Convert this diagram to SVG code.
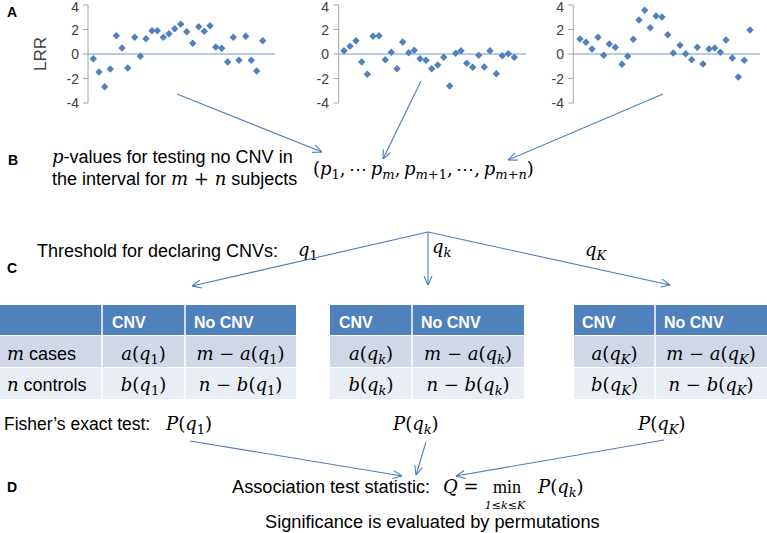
<svg xmlns="http://www.w3.org/2000/svg" xmlns:xlink="http://www.w3.org/1999/xlink" width="767" height="533" viewBox="0 0 767 533">
<style>
.t{font-family:"Liberation Sans",Arial,sans-serif;font-size:18px;fill:#000}
.lbl{font-family:"Liberation Sans",Arial,sans-serif;font-weight:bold;font-size:14px;fill:#000}
.ax{font-family:"Liberation Sans",Arial,sans-serif;font-size:14px;fill:#404040;text-anchor:end}
.lrr{font-family:"Liberation Sans",Arial,sans-serif;font-size:17px;fill:#404040;text-anchor:middle}
.m{font-family:"DejaVu Serif","Liberation Serif",serif;font-size:18px;fill:#000}
.i{font-style:italic}
.s{font-size:13px}
.hd{font-family:"Liberation Sans",Arial,sans-serif;font-weight:bold;font-size:16px;fill:#fff}
.mid{text-anchor:middle}
.axis{stroke:#A6A6A6;stroke-width:1;fill:none}
.zero{stroke:#7395CA;stroke-width:1.2}
.pt{fill:#4F81BD}
.conn{stroke:#4A7EBB;stroke-width:1.1;fill:none;marker-end:url(#ah)}
.hdr{fill:#4F81BD}
.r1{fill:#D0D8E8}
.r2{fill:#E9EDF4}
.sep{stroke:#fff;stroke-width:1.5}
</style>
<defs>
<path id="d" d="M0,-3.7 L3.7,0 L0,3.7 L-3.7,0 Z"/>
<marker id="ah" viewBox="0 0 10 10" refX="10" refY="5" markerWidth="10" markerHeight="10" markerUnits="userSpaceOnUse" orient="auto">
<path d="M1,1 L10,5 L1,9" fill="none" stroke="#4A7EBB" stroke-width="1.1"/>
</marker>
</defs>

<g id="labelA"><text class="lbl" x="7" y="17">A</text></g>
<g id="lrr"><text class="lrr" transform="translate(46,54) rotate(-90)">LRR</text></g>

<g id="plot1">
<path class="axis" d="M88,5 V103 M83,5 H88 M83,29.5 H88 M83,54 H88 M83,78.5 H88 M83,103 H88"/>
<text class="ax" x="79" y="12">4</text><text class="ax" x="79" y="34.5">2</text><text class="ax" x="79" y="59">0</text><text class="ax" x="79" y="83.5">-2</text><text class="ax" x="79" y="108">-4</text>
<line class="zero" x1="88" y1="54" x2="275" y2="54"/>
<g class="pt">
<use href="#d" x="93.3" y="58.7"/><use href="#d" x="99" y="72"/><use href="#d" x="104.7" y="86.7"/><use href="#d" x="110.3" y="69"/><use href="#d" x="116.3" y="35.7"/><use href="#d" x="122" y="48"/><use href="#d" x="127.7" y="68"/><use href="#d" x="134.7" y="37.3"/><use href="#d" x="140.3" y="56.3"/><use href="#d" x="146" y="38.7"/><use href="#d" x="152" y="30.7"/><use href="#d" x="157.3" y="30.7"/><use href="#d" x="163.3" y="37.3"/><use href="#d" x="169" y="33.7"/><use href="#d" x="174.7" y="28.7"/><use href="#d" x="180.7" y="24.3"/><use href="#d" x="186.7" y="31.7"/><use href="#d" x="192.7" y="43.3"/><use href="#d" x="198.7" y="26.7"/><use href="#d" x="204.3" y="31.3"/><use href="#d" x="210" y="25.7"/><use href="#d" x="215.7" y="47"/><use href="#d" x="221.7" y="48.3"/><use href="#d" x="227.7" y="62"/><use href="#d" x="233.3" y="37.3"/><use href="#d" x="239" y="60.3"/><use href="#d" x="245.7" y="36.3"/><use href="#d" x="251.3" y="60.3"/><use href="#d" x="256.7" y="71"/><use href="#d" x="262.7" y="40.7"/>
</g>
</g>

<g id="plot2">
<path class="axis" d="M338.7,5 V103 M333.7,5 H338.7 M333.7,29.5 H338.7 M333.7,54 H338.7 M333.7,78.5 H338.7 M333.7,103 H338.7"/>
<text class="ax" x="329" y="12">4</text><text class="ax" x="329" y="34.5">2</text><text class="ax" x="329" y="59">0</text><text class="ax" x="329" y="83.5">-2</text><text class="ax" x="329" y="108">-4</text>
<line class="zero" x1="338.7" y1="54" x2="526" y2="54"/>
<g class="pt">
<use href="#d" x="344" y="50.7"/><use href="#d" x="350" y="46.3"/><use href="#d" x="356" y="40.7"/><use href="#d" x="361.7" y="62"/><use href="#d" x="367.3" y="74.3"/><use href="#d" x="373" y="36.3"/><use href="#d" x="379" y="35.7"/><use href="#d" x="385.3" y="59.7"/><use href="#d" x="391.3" y="52.3"/><use href="#d" x="397" y="68.7"/><use href="#d" x="402.7" y="42"/><use href="#d" x="408.7" y="52.7"/><use href="#d" x="414.3" y="50.3"/><use href="#d" x="420" y="58.7"/><use href="#d" x="426" y="60.3"/><use href="#d" x="431.7" y="68.7"/><use href="#d" x="437.7" y="65"/><use href="#d" x="443.7" y="57.3"/><use href="#d" x="449.7" y="86"/><use href="#d" x="455.7" y="53.3"/><use href="#d" x="461" y="50.7"/><use href="#d" x="466.7" y="63.3"/><use href="#d" x="472.7" y="67.3"/><use href="#d" x="478.7" y="55.3"/><use href="#d" x="484.3" y="67"/><use href="#d" x="490" y="50.7"/><use href="#d" x="496.3" y="73.7"/><use href="#d" x="502.3" y="55.7"/><use href="#d" x="508.3" y="53.7"/><use href="#d" x="514.3" y="57.3"/>
</g>
</g>

<g id="plot3">
<path class="axis" d="M573.3,5 V103 M568.3,5 H573.3 M568.3,29.5 H573.3 M568.3,54 H573.3 M568.3,78.5 H573.3 M568.3,103 H573.3"/>
<text class="ax" x="564" y="12">4</text><text class="ax" x="564" y="34.5">2</text><text class="ax" x="564" y="59">0</text><text class="ax" x="564" y="83.5">-2</text><text class="ax" x="564" y="108">-4</text>
<line class="zero" x1="573.3" y1="54" x2="760" y2="54"/>
<g class="pt">
<use href="#d" x="580" y="39"/><use href="#d" x="586" y="42.3"/><use href="#d" x="592" y="49"/><use href="#d" x="598" y="37.3"/><use href="#d" x="603.7" y="55.3"/><use href="#d" x="609.3" y="44"/><use href="#d" x="615.3" y="47.3"/><use href="#d" x="622" y="64.3"/><use href="#d" x="627.7" y="56.3"/><use href="#d" x="633.3" y="39.3"/><use href="#d" x="639" y="20"/><use href="#d" x="644.7" y="10.3"/><use href="#d" x="650.3" y="27.7"/><use href="#d" x="656" y="16"/><use href="#d" x="662" y="17"/><use href="#d" x="667.7" y="34.7"/><use href="#d" x="673.3" y="53"/><use href="#d" x="680" y="45.3"/><use href="#d" x="685.7" y="53.7"/><use href="#d" x="691.7" y="59.7"/><use href="#d" x="697.3" y="47.3"/><use href="#d" x="703" y="64"/><use href="#d" x="709" y="49"/><use href="#d" x="714.7" y="48"/><use href="#d" x="720.3" y="52.3"/><use href="#d" x="726" y="40"/><use href="#d" x="732.3" y="58"/><use href="#d" x="738.3" y="77"/><use href="#d" x="744.3" y="60.3"/><use href="#d" x="750" y="30"/>
</g>
</g>

<g id="labelB"><text class="lbl" x="8" y="165">B</text></g>
<g id="pvalText">
<text class="t" x="52" y="163"><tspan class="m i">p</tspan>-values for testing no CNV in</text>
<text class="t" x="52" y="185">the interval for <tspan class="m i">m</tspan><tspan class="m"> + </tspan><tspan class="m i">n</tspan> subjects</text>
</g>
<g id="tuple">
<text class="m" x="313" y="175">(<tspan class="i">p</tspan><tspan class="s" dy="4">1</tspan><tspan dy="-4">,&#8201;⋯&#8201;</tspan><tspan class="i">p</tspan><tspan class="s i" dy="4">m</tspan><tspan dy="-4">,&#8201;</tspan><tspan class="i">p</tspan><tspan class="s" dy="4"><tspan class="i">m</tspan>+1</tspan><tspan dy="-4">,&#8201;⋯,&#8201;</tspan><tspan class="i">p</tspan><tspan class="s" dy="4"><tspan class="i">m</tspan>+<tspan class="i">n</tspan></tspan><tspan dy="-4">)</tspan></text>
</g>

<g id="labelC"><text class="lbl" x="7" y="273">C</text></g>
<g id="threshold">
<text class="t" x="37" y="257">Threshold for declaring  CNVs:</text>
<text class="m" x="298" y="256"><tspan class="i">q</tspan><tspan class="s" dy="4">1</tspan></text>
<text class="m" x="432" y="253"><tspan class="i">q</tspan><tspan class="s i" dy="4">k</tspan></text>
<text class="m" x="585" y="256"><tspan class="i">q</tspan><tspan class="s i" dy="4">K</tspan></text>
</g>

<g id="table1">
<rect class="hdr" x="0" y="305" width="296" height="30"/>
<rect class="r1" x="0" y="336" width="296" height="31"/>
<rect class="r2" x="0" y="368" width="296" height="31"/>
<path class="sep" d="M102,305 V399 M185,305 V399"/>
<text class="hd" x="112" y="328">CNV</text>
<text class="hd" x="194" y="328">No CNV</text>
<text class="t" x="7" y="360"><tspan class="m i">m</tspan> cases</text>
<text class="t" x="7" y="391"><tspan class="m i">n</tspan> controls</text>
<text class="m mid" x="143.5" y="360"><tspan class="i">a</tspan>(<tspan class="i">q</tspan><tspan class="s" dy="4">1</tspan><tspan dy="-4">)</tspan></text>
<text class="m mid" x="240.5" y="360"><tspan class="i">m</tspan> − <tspan class="i">a</tspan>(<tspan class="i">q</tspan><tspan class="s" dy="4">1</tspan><tspan dy="-4">)</tspan></text>
<text class="m mid" x="143.5" y="391"><tspan class="i">b</tspan>(<tspan class="i">q</tspan><tspan class="s" dy="4">1</tspan><tspan dy="-4">)</tspan></text>
<text class="m mid" x="240.5" y="391"><tspan class="i">n</tspan> − <tspan class="i">b</tspan>(<tspan class="i">q</tspan><tspan class="s" dy="4">1</tspan><tspan dy="-4">)</tspan></text>
</g>

<g id="table2">
<rect class="hdr" x="330" y="305" width="194" height="30"/>
<rect class="r1" x="330" y="336" width="194" height="31"/>
<rect class="r2" x="330" y="368" width="194" height="31"/>
<path class="sep" d="M412,305 V399"/>
<text class="hd" x="339" y="328">CNV</text>
<text class="hd" x="421" y="328">No CNV</text>
<text class="m mid" x="371" y="360"><tspan class="i">a</tspan>(<tspan class="i">q</tspan><tspan class="s i" dy="4">k</tspan><tspan dy="-4">)</tspan></text>
<text class="m mid" x="468" y="360"><tspan class="i">m</tspan> − <tspan class="i">a</tspan>(<tspan class="i">q</tspan><tspan class="s i" dy="4">k</tspan><tspan dy="-4">)</tspan></text>
<text class="m mid" x="371" y="391"><tspan class="i">b</tspan>(<tspan class="i">q</tspan><tspan class="s i" dy="4">k</tspan><tspan dy="-4">)</tspan></text>
<text class="m mid" x="468" y="391"><tspan class="i">n</tspan> − <tspan class="i">b</tspan>(<tspan class="i">q</tspan><tspan class="s i" dy="4">k</tspan><tspan dy="-4">)</tspan></text>
</g>

<g id="table3">
<rect class="hdr" x="574" y="305" width="193" height="30"/>
<rect class="r1" x="574" y="336" width="193" height="31"/>
<rect class="r2" x="574" y="368" width="193" height="31"/>
<path class="sep" d="M655,305 V399"/>
<text class="hd" x="582" y="328">CNV</text>
<text class="hd" x="664" y="328">No CNV</text>
<text class="m mid" x="614.5" y="360"><tspan class="i">a</tspan>(<tspan class="i">q</tspan><tspan class="s i" dy="4">K</tspan><tspan dy="-4">)</tspan></text>
<text class="m mid" x="711" y="360"><tspan class="i">m</tspan> − <tspan class="i">a</tspan>(<tspan class="i">q</tspan><tspan class="s i" dy="4">K</tspan><tspan dy="-4">)</tspan></text>
<text class="m mid" x="614.5" y="391"><tspan class="i">b</tspan>(<tspan class="i">q</tspan><tspan class="s i" dy="4">K</tspan><tspan dy="-4">)</tspan></text>
<text class="m mid" x="711" y="391"><tspan class="i">n</tspan> − <tspan class="i">b</tspan>(<tspan class="i">q</tspan><tspan class="s i" dy="4">K</tspan><tspan dy="-4">)</tspan></text>
</g>

<g id="fisher">
<text class="t" x="4" y="430" style="font-size:17.5px">Fisher’s exact test:</text>
<text class="m" x="166" y="430"><tspan class="i">P</tspan>(<tspan class="i">q</tspan><tspan class="s" dy="4">1</tspan><tspan dy="-4">)</tspan></text>
<text class="m" x="393" y="430"><tspan class="i">P</tspan>(<tspan class="i">q</tspan><tspan class="s i" dy="4">k</tspan><tspan dy="-4">)</tspan></text>
<text class="m" x="638" y="430"><tspan class="i">P</tspan>(<tspan class="i">q</tspan><tspan class="s i" dy="4">K</tspan><tspan dy="-4">)</tspan></text>
</g>

<g id="labelD"><text class="lbl" x="7" y="492">D</text></g>
<g id="association">
<text class="t" x="232" y="493" style="font-size:18.2px">Association test statistic:</text>
<text class="m" x="443" y="493"><tspan class="i">Q</tspan> =</text>
<text class="m mid" x="507" y="493" style="font-family:'Liberation Serif',serif">min</text>
<text class="m mid i" x="505" y="508.5" style="font-size:11px">1≤k≤K</text>
<text class="m" x="538" y="493"><tspan class="i">P</tspan>(<tspan class="i">q</tspan><tspan class="s i" dy="4">k</tspan><tspan dy="-4">)</tspan></text>
<text class="t" x="265" y="528" style="font-size:18.2px">Significance is evaluated by permutations</text>
</g>

<g id="connectors">
<line class="conn" x1="177" y1="94" x2="322" y2="152"/>
<line class="conn" x1="421" y1="81" x2="383" y2="159"/>
<line class="conn" x1="663" y1="94" x2="508" y2="160"/>
<line class="conn" x1="428" y1="232" x2="192" y2="286"/>
<line class="conn" x1="428" y1="232" x2="428" y2="285"/>
<line class="conn" x1="428" y1="232" x2="670" y2="285"/>
<line class="conn" x1="190" y1="441" x2="402" y2="476"/>
<line class="conn" x1="426" y1="442" x2="416" y2="475"/>
<line class="conn" x1="664" y1="440" x2="456" y2="476"/>
</g>
</svg>
